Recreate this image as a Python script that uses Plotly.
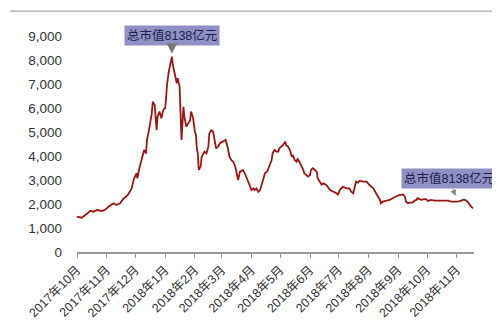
import plotly.graph_objects as go

dates = [
    "2017-10-01", "2017-10-06", "2017-10-11", "2017-10-15", "2017-10-18", "2017-10-22",
    "2017-10-27", "2017-10-30", "2017-11-04", "2017-11-08", "2017-11-11", "2017-11-15",
    "2017-11-18", "2017-11-23", "2017-11-27", "2017-11-29", "2017-12-02", "2017-12-03",
    "2017-12-05", "2017-12-08", "2017-12-10", "2017-12-12", "2017-12-13", "2017-12-15",
    "2017-12-18", "2017-12-19", "2017-12-21", "2017-12-23", "2017-12-24", "2017-12-26",
    "2017-12-28", "2017-12-30", "2018-01-01", "2018-01-02", "2018-01-03", "2018-01-05",
    "2018-01-08", "2018-01-09", "2018-01-11", "2018-01-13", "2018-01-14", "2018-01-16",
    "2018-01-18", "2018-01-20", "2018-01-21", "2018-01-23", "2018-01-25", "2018-01-27",
    "2018-01-28", "2018-01-30", "2018-02-01", "2018-02-02", "2018-02-03", "2018-02-04",
    "2018-02-05", "2018-02-07", "2018-02-08", "2018-02-10", "2018-02-11", "2018-02-13",
    "2018-02-15", "2018-02-16", "2018-02-18", "2018-02-20", "2018-02-22", "2018-02-23",
    "2018-02-25", "2018-02-27", "2018-03-02", "2018-03-05", "2018-03-07", "2018-03-09",
    "2018-03-11", "2018-03-13", "2018-03-15", "2018-03-16", "2018-03-18", "2018-03-20",
    "2018-03-22", "2018-03-23", "2018-03-25", "2018-03-27", "2018-03-28", "2018-03-30",
    "2018-04-01", "2018-04-03", "2018-04-04", "2018-04-06", "2018-04-08", "2018-04-10",
    "2018-04-11", "2018-04-13", "2018-04-15", "2018-04-17", "2018-04-18", "2018-04-20",
    "2018-04-22", "2018-04-23", "2018-04-25", "2018-04-27", "2018-04-29", "2018-04-30",
    "2018-05-02", "2018-05-04", "2018-05-06", "2018-05-07", "2018-05-09", "2018-05-11",
    "2018-05-13", "2018-05-14", "2018-05-16", "2018-05-18", "2018-05-19", "2018-05-21",
    "2018-05-23", "2018-05-25", "2018-05-26", "2018-05-28", "2018-05-30", "2018-06-01",
    "2018-06-02", "2018-06-04", "2018-06-06", "2018-06-08", "2018-06-09", "2018-06-11",
    "2018-06-13", "2018-06-15", "2018-06-18", "2018-06-22", "2018-06-25", "2018-06-29",
    "2018-06-30", "2018-07-02", "2018-07-05", "2018-07-09", "2018-07-12", "2018-07-14",
    "2018-07-16", "2018-07-18", "2018-07-19", "2018-07-21", "2018-07-23", "2018-07-26",
    "2018-07-30", "2018-08-02", "2018-08-06", "2018-08-09", "2018-08-11", "2018-08-13",
    "2018-08-14", "2018-08-16", "2018-08-20", "2018-08-23", "2018-08-26", "2018-08-30",
    "2018-09-02", "2018-09-06", "2018-09-08", "2018-09-09", "2018-09-11", "2018-09-13",
    "2018-09-16", "2018-09-18", "2018-09-20", "2018-09-21", "2018-09-23", "2018-09-25",
    "2018-09-28", "2018-09-30", "2018-10-02", "2018-10-05", "2018-10-09", "2018-10-12",
    "2018-10-16", "2018-10-19", "2018-10-23", "2018-10-26", "2018-10-30", "2018-11-02",
    "2018-11-06", "2018-11-07", "2018-11-09", "2018-11-11", "2018-11-13", "2018-11-14",
    "2018-11-16", "2018-11-18",
]

market_cap = [
    1470, 1430, 1580, 1720, 1680, 1750,
    1710, 1750, 1920, 2030, 1960, 2030,
    2200, 2375, 2650, 3000, 3280, 3070,
    3490, 3900, 4250, 4110, 4670, 5080,
    5780, 6260, 6125, 5080, 5640, 5850,
    5570, 5920, 6000, 6470, 7030, 7580,
    8138, 7790, 7450, 7030, 7240, 6890,
    4670, 6050, 5640, 5220, 5360, 5500,
    5850, 5600, 5000, 4900, 4300, 4100,
    3420, 3560, 3970, 4110, 4180, 4110,
    4390, 4940, 5080, 5010, 4600, 4320,
    4390, 4530, 4600, 4670, 4390, 3970,
    3830, 3760, 3560, 3350, 3000, 3350,
    3420, 3420, 3280, 3070, 3000, 2800,
    2580, 2650, 2580, 2650, 2510, 2580,
    2720, 3070, 3280, 3350, 3420, 3625,
    3830, 4110, 4250, 4180, 4180, 4320,
    4390, 4460, 4600, 4460, 4390, 4250,
    3970, 4040, 3830, 3760, 3900, 3760,
    3560, 3420, 3280, 3210, 3140, 3210,
    3420, 3490, 3420, 3350, 3070, 2900,
    2800, 2860, 2790, 2580, 2510, 2440,
    2375, 2580, 2720, 2650, 2650, 2510,
    2440, 2720, 2930, 2890, 2970, 2930,
    2930, 2790, 2650, 2440, 2300, 2170,
    2030, 2100, 2140, 2170, 2240, 2300,
    2375, 2400, 2300, 2100, 2030, 2060,
    2060, 2140, 2170, 2240, 2200, 2170,
    2200, 2200, 2125, 2170, 2140, 2140,
    2110, 2140, 2140, 2100, 2100, 2100,
    2140, 2170, 2170, 2140, 2060, 2000,
    1890, 1820,
]

tick_dates = [
    "2017-10-01", "2017-11-01", "2017-12-01", "2018-01-01", "2018-02-01", "2018-03-01",
    "2018-04-01", "2018-05-01", "2018-06-01", "2018-07-01", "2018-08-01", "2018-09-01",
    "2018-10-01", "2018-11-01",
]
tick_labels = [
    "2017年10月", "2017年11月", "2017年12月", "2018年1月", "2018年2月", "2018年3月",
    "2018年4月", "2018年5月", "2018年6月", "2018年7月", "2018年8月", "2018年9月",
    "2018年10月", "2018年11月",
]

y_ticks = [0, 1000, 2000, 3000, 4000, 5000, 6000, 7000, 8000, 9000]
y_labels = ["0", "1,000", "2,000", "3,000", "4,000", "5,000", "6,000", "7,000", "8,000", "9,000"]

annot_text = "总市值8138亿元"
peak_date, peak_val = "2018-01-08", 8138
end_date, end_val = "2018-11-02", 2100

font_family = "Liberation Sans, Arial, Noto Sans CJK SC, sans-serif"

fig = go.Figure()
fig.add_trace(go.Scatter(
    x=dates, y=market_cap, mode="lines",
    line=dict(color="#9c1616", width=1.8),
    hoverinfo="skip", showlegend=False,
))

fig.update_layout(
    width=492, height=313,
    margin=dict(l=69, r=26, t=28, b=69, autoexpand=False),
    paper_bgcolor="white", plot_bgcolor="white",
    font=dict(family=font_family, color="#333333"),
    xaxis=dict(
        type="date",
        range=["2017-10-01", "2018-11-19"],
        tickvals=tick_dates, ticktext=tick_labels,
        tickangle=-45,
        tickfont=dict(size=12.5, color="#333333"),
        showgrid=False, zeroline=False,
        showline=True, linecolor="#999999", linewidth=1.5,
        ticks="outside", ticklen=4, tickcolor="#999999", tickwidth=1,
        automargin=False,
    ),
    yaxis=dict(
        range=[0, 9000],
        tickvals=y_ticks, ticktext=y_labels,
        tickfont=dict(size=13.5, color="#333333"),
        showgrid=False, zeroline=False, showline=False,
        ticks="", ticklabelstandoff=14,
        automargin=False,
    ),
    shapes=[dict(
        type="line", xref="paper", yref="paper",
        x0=-0.169, x1=1.045, y0=1.115, y1=1.115,
        line=dict(color="#aaaaaa", width=1.2),
    )],
    annotations=[
        dict(
            x=peak_date, y=peak_val, xref="x", yref="y",
            text=annot_text, showarrow=True,
            arrowhead=2, arrowsize=1.4, arrowwidth=1.5, arrowcolor="#777777",
            ax=0, ay=-21, standoff=3,
            bgcolor="#8f90c4", borderpad=2,
            font=dict(size=12.5, color="#1e1e4e", family=font_family),
        ),
        dict(
            x=end_date, y=end_val, xref="x", yref="y",
            text=annot_text, showarrow=True,
            arrowhead=2, arrowsize=1.2, arrowwidth=1, arrowcolor="#888888",
            ax=-9, ay=-23, standoff=6,
            bgcolor="#8f90c4", borderpad=2,
            font=dict(size=12.5, color="#1e1e4e", family=font_family),
        ),
    ],
)

fig.write_html("out.html")
